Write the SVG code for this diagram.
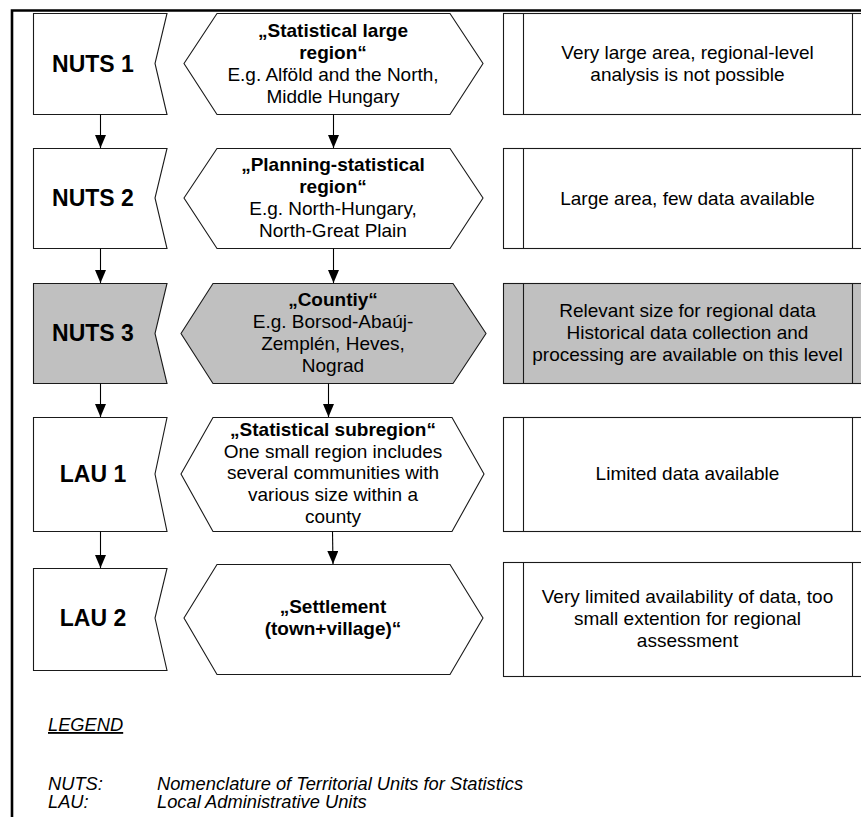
<svg xmlns="http://www.w3.org/2000/svg" width="861" height="817" viewBox="0 0 861 817">
  <style>
    text { font-family: "Liberation Sans", Arial, sans-serif; fill: #000; }
    .lvl { font-size: 23px; font-weight: bold; text-anchor: middle; }
    .t { font-size: 19px; text-anchor: middle; }
    .b { font-weight: bold; }
    .shape { fill: #fff; stroke: #1a1a1a; stroke-width: 1.1; }
    .hl { fill: #c0c0c0; }
    .div { stroke: #1a1a1a; stroke-width: 1.1; fill: none; }
    .conn { stroke: #000; stroke-width: 1.1; fill: none; marker-end: url(#arrow); }
    .leg { font-size: 18.3px; font-style: italic; }
  </style>
  <defs>
    <marker id="arrow" markerUnits="userSpaceOnUse" markerWidth="13" markerHeight="11" refX="13" refY="5.5" orient="auto">
      <path d="M0,0 L13,5.5 L0,11 z" fill="#000"/>
    </marker>
  </defs>

  <rect width="861" height="817" fill="#fff"/>
  <!-- page frame -->
  <path d="M12,817 V10.5 H861" fill="none" stroke="#000" stroke-width="2.6"/>

  <!-- level 1 -->
  <g id="nuts1">
    <polygon class="shape" points="33.5,13.5 167,13.5 155,63.5 167,114.5 33.5,114.5"/>
    <text class="lvl" x="93" y="72">NUTS 1</text>
  </g>
  <g id="region-large">
    <polygon class="shape" points="184,63.5 217,13.5 450,13.5 483,63.5 450,114.5 217,114.5"/>
    <text class="t" x="333" y="37"><tspan class="b">„Statistical large</tspan><tspan class="b" x="333" dy="22">region“</tspan><tspan x="333" dy="22">E.g. Alföld and the North,</tspan><tspan x="333" dy="22">Middle Hungary</tspan></text>
  </g>
  <g id="note1">
    <rect class="shape" x="503.5" y="13.5" width="370" height="101"/>
    <path class="div" d="M523.5,13.5 V114.5 M852.5,13.5 V114.5"/>
    <text class="t" x="687.5" y="59"><tspan>Very large area, regional-level</tspan><tspan x="687.5" dy="22">analysis is not possible</tspan></text>
  </g>

  <!-- level 2 -->
  <g id="nuts2">
    <polygon class="shape" points="33.5,148.5 167,148.5 155,198 167,248.5 33.5,248.5"/>
    <text class="lvl" x="93" y="206">NUTS 2</text>
  </g>
  <g id="region-planning">
    <polygon class="shape" points="184,198 217,148.5 450,148.5 483,198 450,248.5 217,248.5"/>
    <text class="t" x="333" y="171"><tspan class="b">„Planning-statistical</tspan><tspan class="b" x="333" dy="22">region“</tspan><tspan x="333" dy="22">E.g. North-Hungary,</tspan><tspan x="333" dy="22">North-Great Plain</tspan></text>
  </g>
  <g id="note2">
    <rect class="shape" x="503.5" y="148.5" width="370" height="100"/>
    <path class="div" d="M523.5,148.5 V248.5 M852.5,148.5 V248.5"/>
    <text class="t" x="687.5" y="205">Large area, few data available</text>
  </g>

  <!-- level 3 (highlighted) -->
  <g id="nuts3">
    <polygon class="shape hl" points="33.5,283.5 167,283.5 155,333.5 167,383.5 33.5,383.5"/>
    <text class="lvl" x="93" y="341">NUTS 3</text>
  </g>
  <g id="region-county">
    <polygon class="shape hl" points="181,333.5 213,283.5 453,283.5 486,333.5 453,383.5 213,383.5"/>
    <text class="t" x="333" y="306"><tspan class="b">„Countiy“</tspan><tspan x="333" dy="22">E.g. Borsod-Abaúj-</tspan><tspan x="333" dy="22">Zemplén, Heves,</tspan><tspan x="333" dy="22">Nograd</tspan></text>
  </g>
  <g id="note3">
    <rect class="shape hl" x="503.5" y="283.5" width="370" height="100"/>
    <path class="div" d="M523.5,283.5 V383.5 M852.5,283.5 V383.5"/>
    <text class="t" x="687.5" y="317"><tspan>Relevant size for regional data</tspan><tspan x="687.5" dy="22">Historical data collection and</tspan><tspan x="687.5" dy="22">processing are available on this level</tspan></text>
  </g>

  <!-- level 4 -->
  <g id="lau1">
    <polygon class="shape" points="33.5,417.5 167,417.5 155,474 167,531.5 33.5,531.5"/>
    <text class="lvl" x="93" y="482">LAU 1</text>
  </g>
  <g id="region-subregion">
    <polygon class="shape" points="181,474 213,417.5 452,417.5 484,474 452,531.5 213,531.5"/>
    <text class="t" x="333" y="436"><tspan class="b">„Statistical subregion“</tspan><tspan x="333" dy="21.7">One small region includes</tspan><tspan x="333" dy="21.7">several communities with</tspan><tspan x="333" dy="21.7">various size within a</tspan><tspan x="333" dy="21.7">county</tspan></text>
  </g>
  <g id="note4">
    <rect class="shape" x="503.5" y="417.5" width="370" height="114"/>
    <path class="div" d="M523.5,417.5 V531.5 M852.5,417.5 V531.5"/>
    <text class="t" x="687.5" y="480">Limited data available</text>
  </g>

  <!-- level 5 -->
  <g id="lau2">
    <polygon class="shape" points="33.5,568.5 167,568.5 155,618 167,670.5 33.5,670.5"/>
    <text class="lvl" x="93" y="626">LAU 2</text>
  </g>
  <g id="region-settlement">
    <polygon class="shape" points="184,618 217,564.5 450,564.5 483,618 450,674.5 217,674.5"/>
    <text class="t b" x="333" y="613"><tspan>„Settlement</tspan><tspan x="333" dy="22">(town+village)“</tspan></text>
  </g>
  <g id="note5">
    <rect class="shape" x="503.5" y="562.5" width="370" height="114"/>
    <path class="div" d="M523.5,562.5 V676.5 M852.5,562.5 V676.5"/>
    <text class="t" x="687.5" y="603"><tspan>Very limited availability of data, too</tspan><tspan x="687.5" dy="22">small extention for regional</tspan><tspan x="687.5" dy="22">assessment</tspan></text>
  </g>

  <!-- connectors -->
  <g id="connectors">
    <path class="conn" d="M100.5,114.5 V148"/>
    <path class="conn" d="M100.5,248.5 V283"/>
    <path class="conn" d="M100.5,383.5 V417"/>
    <path class="conn" d="M100.5,531.5 V568"/>
    <path class="conn" d="M333.5,114.5 V148"/>
    <path class="conn" d="M333.5,248.5 V283"/>
    <path class="conn" d="M328.5,383.5 V417"/>
    <path class="conn" d="M332.5,531.5 L333,564"/>
  </g>

  <!-- legend -->
  <g id="legend">
    <text class="leg" x="48" y="731" text-decoration="underline">LEGEND</text>
    <text class="leg" x="48" y="790">NUTS:</text>
    <text class="leg" x="157" y="790">Nomenclature of Territorial Units for Statistics</text>
    <text class="leg" x="48" y="808">LAU:</text>
    <text class="leg" x="157" y="808">Local Administrative Units</text>
  </g>
</svg>
